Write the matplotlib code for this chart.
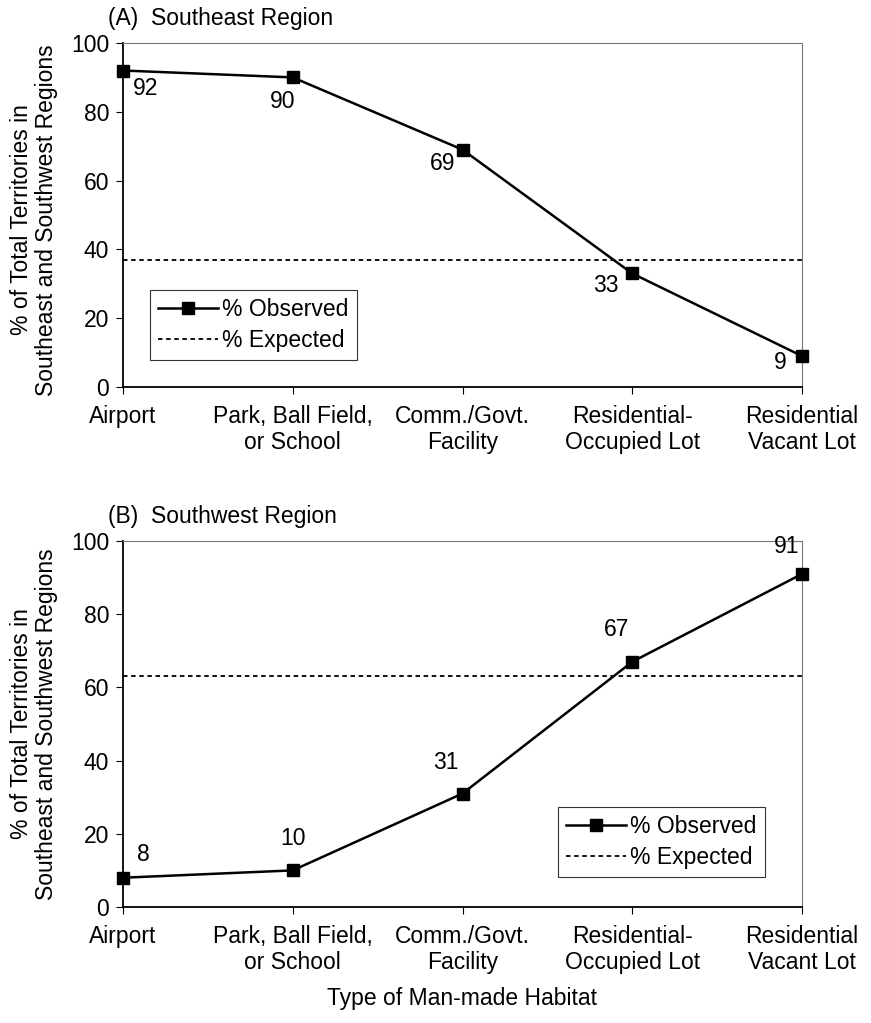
import matplotlib
matplotlib.use("Agg")
import matplotlib.pyplot as plt

plt.rcParams['font.family'] = ['Liberation Sans', 'DejaVu Sans']

categories = ["Airport", "Park, Ball Field,\nor School", "Comm./Govt.\nFacility",
              "Residential-\nOccupied Lot", "Residential\nVacant Lot"]
se_observed = [92, 90, 69, 33, 9]
se_expected = 37
sw_observed = [8, 10, 31, 67, 91]
sw_expected = 63
yticks = [0, 20, 40, 60, 80, 100]

W, H = 871, 1023
fig = plt.figure(figsize=(W / 100, H / 100), dpi=100)

def px_axes(left, right, top, bottom):
    return fig.add_axes([left / W, 1 - bottom / H, (right - left) / W, (bottom - top) / H])

axA = px_axes(123, 802, 43, 387)
axB = px_axes(123, 802, 541, 907)

FS = 16.5

def style(ax):
    x = list(range(len(categories)))
    ax.set_xlim(0, len(categories) - 1)
    ax.set_ylim(0, 100)
    ax.set_xticks(x)
    ax.set_xticklabels(categories, fontsize=FS, linespacing=1.15)
    ax.set_yticks(yticks)
    ax.set_yticklabels([str(t) for t in yticks], fontsize=FS)
    ax.tick_params(axis='both', direction='out', length=5, width=0.8, color='black', pad=5)
    ax.tick_params(axis='x', pad=8)
    for s in ['left', 'bottom']:
        ax.spines[s].set_linewidth(1.3)
        ax.spines[s].set_color('black')
    for s in ['top', 'right']:
        ax.spines[s].set_linewidth(0.8)
        ax.spines[s].set_color('#777777')
        ax.spines[s].set_linestyle((0, (2, 1)))

x = list(range(len(categories)))

def legend(ax, loc, anchor):
    leg = ax.legend(loc=loc, bbox_to_anchor=anchor, fontsize=FS, frameon=True,
                    fancybox=False, edgecolor='black', handlelength=2.6, handletextpad=0.2,
                    borderpad=0.35, labelspacing=0.35, borderaxespad=0)
    leg.get_frame().set_linewidth(0.8)
    return leg

# Panel A
axA.plot(x, se_observed, color='black', lw=1.8, marker='s', ms=8, label='% Observed', clip_on=False, zorder=3)
axA.axhline(se_expected, color='black', lw=1.3, ls=(0, (2.5, 2)), label='% Expected')
style(axA)
offsA = [(16, -13), (-7, -17), (-14, -10), (-19, -9), (-16, -5)]
for xi, v, (dx, dy) in zip(x, se_observed, offsA):
    axA.annotate(str(v), (xi, v), xytext=(dx, dy), textcoords='offset points',
                 ha='center', va='center', fontsize=FS)
legend(axA, 'lower left', (0.04, 0.078))
fig.text(108 / W, 1 - 18 / H, "(A)  Southeast Region", fontsize=FS, ha='left', va='center')

# Panel B
axB.plot(x, sw_observed, color='black', lw=1.8, marker='s', ms=8, label='% Observed', clip_on=False, zorder=3)
axB.axhline(sw_expected, color='black', lw=1.3, ls=(0, (2.5, 2)), label='% Expected')
style(axB)
offsB = [(15, 17), (0, 23), (-12, 22), (-11, 23), (-11, 20)]
for xi, v, (dx, dy) in zip(x, sw_observed, offsB):
    axB.annotate(str(v), (xi, v), xytext=(dx, dy), textcoords='offset points',
                 ha='center', va='center', fontsize=FS)
legend(axB, 'lower right', (0.945, 0.082))
fig.text(108 / W, 1 - 516 / H, "(B)  Southwest Region", fontsize=FS, ha='left', va='center')

for yc in [220, 724]:
    fig.text(34 / W, 1 - yc / H, "% of Total Territories in\nSoutheast and Southwest Regions",
             rotation=90, ha='center', va='center', fontsize=FS, linespacing=1.15)

fig.text(462 / W, 1 - 998 / H, "Type of Man-made Habitat", ha='center', va='center', fontsize=FS)

fig.savefig("out.png", dpi=100)
